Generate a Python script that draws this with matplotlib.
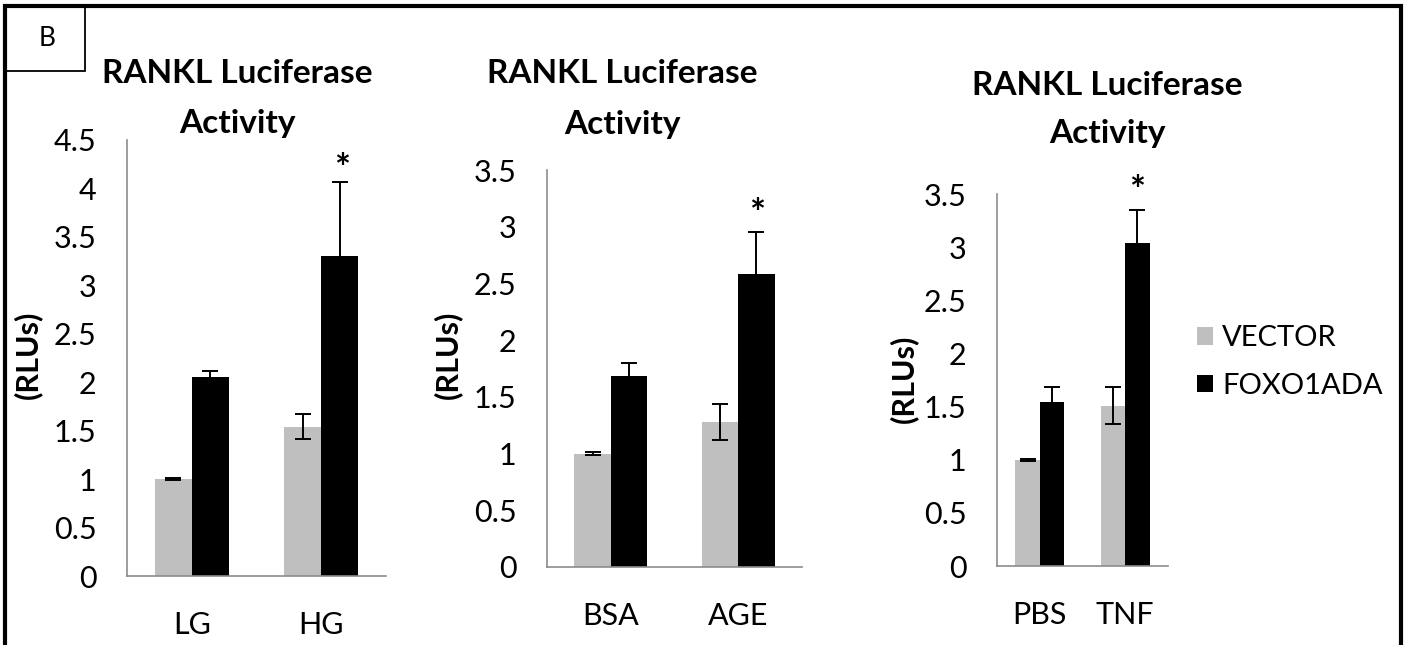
import matplotlib.pyplot as plt
import matplotlib.patches as patches
import numpy as np

plt.rcParams['font.family'] = ['Lato', 'DejaVu Sans']

series = ['VECTOR', 'FOXO1ADA']
colors = ['#bfbfbf', '#000000']

# one entry per panel: group labels, means and errors (vector, foxo1ada)
groups = [['LG', 'HG'], ['BSA', 'AGE'], ['PBS', 'TNF']]
vector_mean = [[1.0, 1.54], [1.0, 1.28], [1.0, 1.51]]
vector_err = [[0.01, 0.13], [0.01, 0.16], [0.01, 0.17]]
foxo_mean = [[2.05, 3.30], [1.68, 2.58], [1.54, 3.04]]
foxo_err = [[0.07, 0.77], [0.12, 0.37], [0.14, 0.31]]
ymax = [4.5, 3.5, 3.5]
title_lines = ['RANKL Luciferase', 'Activity']

W, H = 1410, 645
fig = plt.figure(figsize=(W / 100, H / 100), dpi=100)

# axes boxes in pixels: left, top, right, bottom
boxes = [(127, 140, 386, 576), (547, 170, 802, 567), (997, 194, 1168, 566)]
title_x = [237, 622, 1107]
title_base = [(83, 133), (83, 134), (95, 143)]
star_pos = [(342, 160), (757, 205), (1137, 182)]
ylab_pos = [(28, 355), (448, 355), (904, 379)]

for i in range(3):
    l, t, r, b = boxes[i]
    ax = fig.add_axes([l / W, 1 - b / H, (r - l) / W, (b - t) / H])
    x = np.arange(len(groups[i]))
    w = 0.285
    ax.bar(x - w / 2, vector_mean[i], w, color=colors[0], label=series[0])
    ax.bar(x + w / 2, foxo_mean[i], w, color=colors[1], label=series[1])
    ax.errorbar(x - w / 2, vector_mean[i], yerr=vector_err[i], fmt='none',
                ecolor='black', elinewidth=1.4, capsize=6, capthick=1.4)
    ax.errorbar(x + w / 2, foxo_mean[i], yerr=foxo_err[i], fmt='none',
                ecolor='black', elinewidth=1.4, capsize=6, capthick=1.4)
    ax.set_xlim(-0.5, len(x) - 0.5)
    ax.set_ylim(0, ymax[i])
    ticks = np.arange(0, ymax[i] + 0.01, 0.5)
    ax.set_yticks(ticks)
    ax.set_yticklabels(['%g' % v for v in ticks])
    ax.set_xticks(x)
    ax.set_xticklabels(groups[i])
    ax.tick_params(length=0, labelsize=22, colors='black')
    ax.tick_params(axis='y', pad=22)
    ax.tick_params(axis='x', pad=25)
    for s in ['top', 'right']:
        ax.spines[s].set_visible(False)
    for s in ['left', 'bottom']:
        ax.spines[s].set_color('#8c8c8c')
        ax.spines[s].set_linewidth(1.2)

    # significance mark over the treated group
    sx, sy = star_pos[i]
    fig.text(sx / W, 1 - (sy + 10) / H, '*', ha='center', va='center',
             fontsize=27, fontweight='bold')
    for line, yb in zip(title_lines, title_base[i]):
        fig.text(title_x[i] / W, 1 - yb / H, line, ha='center',
                 va='baseline', fontsize=24, fontweight='bold')
    lx, ly = ylab_pos[i]
    fig.text(lx / W, 1 - ly / H, '(RLUs)', rotation=90, ha='center',
             va='center', fontsize=22, fontweight='bold')

leg = fig.legend(handles=fig.axes[2].containers[:2], labels=series,
                 loc='center left', bbox_to_anchor=(1197 / W, 1 - 362 / H),
                 frameon=False, fontsize=21, handlelength=0.55,
                 handleheight=0.55, handletextpad=0.32, labelspacing=0.75,
                 borderpad=0, borderaxespad=0)

# outer frame and panel letter box
fig.add_artist(patches.Rectangle((5 / W, -0.05), 1396 / W, 1.05 - 6 / H,
                                 transform=fig.transFigure, fill=False,
                                 edgecolor='black', linewidth=3))
fig.add_artist(patches.Rectangle((5 / W, 1 - 71 / H), 80 / W, 65 / H,
                                 transform=fig.transFigure, fill=False,
                                 edgecolor='black', linewidth=1.3))
fig.text(47 / W, 1 - 39 / H, 'B', ha='center', va='center', fontsize=19)

fig.savefig('out.png', dpi=100)
